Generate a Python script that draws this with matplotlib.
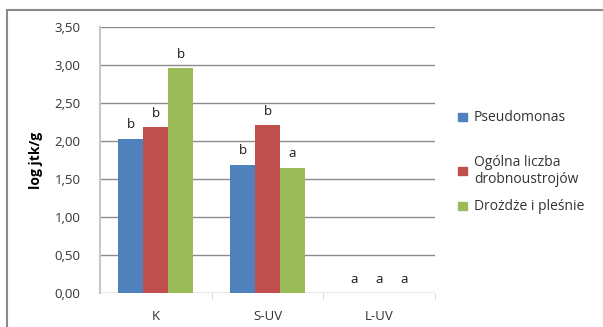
import numpy as np
import matplotlib; matplotlib.use("Agg")
import matplotlib.pyplot as plt
from matplotlib.patches import Rectangle
from matplotlib.ticker import FuncFormatter

# data
groups = ["K", "S-UV", "L-UV"]
series = ["Pseudomonas", "Ogólna liczba\ndrobnoustrojów", "Drożdże i pleśnie"]
pseudomonas = [2.03, 1.69, 0.0]
ogolna = [2.18, 2.21, 0.0]
drozdze = [2.96, 1.65, 0.0]
letters_ps = ["b", "b", "a"]
letters_og = ["b", "b", "a"]
letters_dr = ["b", "a", "a"]
colors = ["#4F81BD", "#C0504D", "#9BBB59"]

plt.rcParams["font.family"] = ["Open Sans", "DejaVu Sans"]

fig = plt.figure(figsize=(6.03, 3.27), dpi=100)
ax = fig.add_axes([100/603, 1-293/327, 335/603, 266/327])

vals = [pseudomonas, ogolna, drozdze]
lets = [letters_ps, letters_og, letters_dr]
x = np.arange(len(groups))
w = 0.224
for i, (v, l, c) in enumerate(zip(vals, lets, colors)):
    xs = x + (i - 1) * w
    ax.bar(xs, v, width=w, color=c, zorder=3)
    for xi, vi, li in zip(xs, v, l):
        ax.annotate(li, (xi, vi), xytext=(0, 10), textcoords="offset points",
                    ha="center", va="center", fontsize=9.5, color="#1a1a1a")

ax.set_xlim(-0.5, 2.5)
ax.set_ylim(0, 3.5)
ax.set_yticks(np.arange(0, 3.51, 0.5))
ax.yaxis.set_major_formatter(FuncFormatter(lambda v, p: f"{v:.2f}".replace(".", ",")))
ax.grid(axis="y", color="#8c8c8c", lw=1.0, zorder=0)
ax.set_xticks(x)
ax.set_xticklabels(groups)
ax.set_xticks([0.5, 1.5, 2.5], minor=True)
ax.tick_params(axis="x", which="major", length=0, pad=12, labelsize=9.5, colors="#333333")
ax.tick_params(axis="x", which="minor", length=4, color="#d0d0d0")
ax.tick_params(axis="y", length=0, pad=14, labelsize=9.5, colors="#333333")
for s in ["top", "right"]:
    ax.spines[s].set_visible(False)
ax.spines["left"].set_color("#c8c8c8")
ax.spines["left"].set_linewidth(1.5)
ax.spines["bottom"].set_visible(False)
ax.set_ylabel("log jtk/g", fontsize=10, fontweight="bold", labelpad=8)

# legend drawn by hand (Excel-like spacing)
leg_y = [117, 171, 206]
for name, c, yy in zip(series, colors, leg_y):
    fig.patches.append(Rectangle(((462-4)/603, 1-(yy+4)/327), 9/603, 8/327,
                                 transform=fig.transFigure, color=c))
    fig.text(474/603, 1-yy/327, name, ha="left", va="center", fontsize=10,
             color="#333333", linespacing=1.2)

# outer frame
fig.patches.append(Rectangle((7/603, -0.05), 1.0, 1-10/327 + 0.05,
                             transform=fig.transFigure, fill=False,
                             edgecolor="#8a8a8a", lw=1.5))

fig.savefig("out.png", dpi=100)
